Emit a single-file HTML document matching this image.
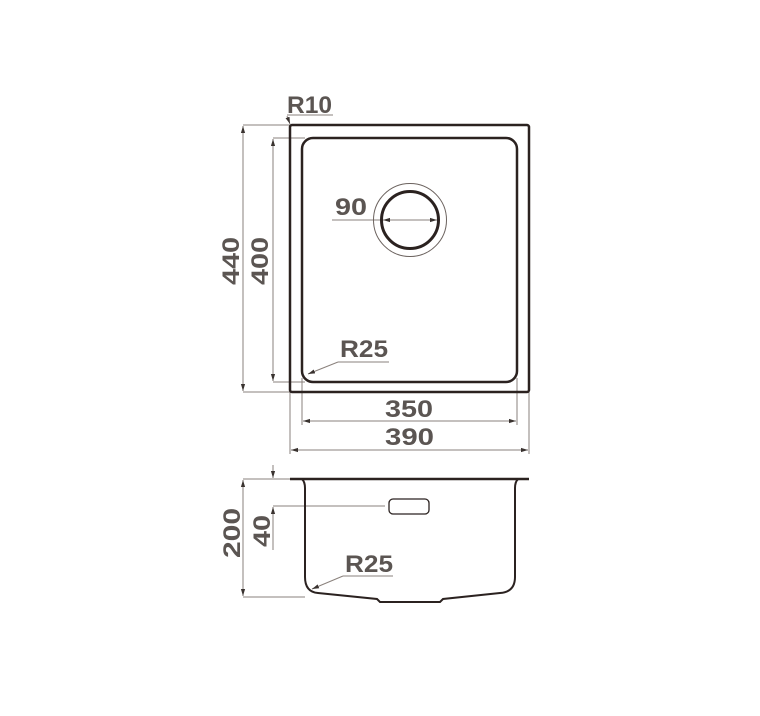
<!DOCTYPE html>
<html><head><meta charset="utf-8"><style>
html,body{margin:0;padding:0;background:#fff;}
svg{display:block;}
text{font-family:"Liberation Sans",sans-serif;font-weight:bold;fill:#5b5552;font-size:24px;}
</style></head><body>
<svg width="760" height="716" viewBox="0 0 760 716" xmlns="http://www.w3.org/2000/svg">
<defs>
<marker id="a" viewBox="0 0 10 10" refX="10" refY="5" markerWidth="7" markerHeight="7" orient="auto-start-reverse"><path d="M0,2 L10,5 L0,8z" fill="#3a3330"/></marker>
</defs>
<g fill="none" stroke="#8a817c" stroke-width="1">
<line x1="243" y1="125" x2="290" y2="125"/>
<line x1="243" y1="392" x2="290" y2="392"/>
<line x1="243" y1="126" x2="243" y2="391" marker-start="url(#a)" marker-end="url(#a)"/>
<line x1="273" y1="138" x2="305" y2="138"/>
<line x1="273" y1="382" x2="305" y2="382"/>
<line x1="273" y1="139" x2="273" y2="381" marker-start="url(#a)" marker-end="url(#a)"/>
<line x1="302" y1="378" x2="302" y2="425"/>
<line x1="517" y1="378" x2="517" y2="425"/>
<line x1="303" y1="421" x2="516" y2="421" marker-start="url(#a)" marker-end="url(#a)"/>
<line x1="290" y1="392" x2="290" y2="454"/>
<line x1="529" y1="392" x2="529" y2="454"/>
<line x1="291" y1="450" x2="528" y2="450" marker-start="url(#a)" marker-end="url(#a)"/>
<line x1="287" y1="115" x2="333" y2="115"/>
<line x1="287" y1="116" x2="290" y2="124" marker-end="url(#a)"/>
<line x1="332" y1="220" x2="382" y2="220"/>
<line x1="383" y1="220" x2="437" y2="220" marker-start="url(#a)" marker-end="url(#a)"/>
<line x1="338" y1="362" x2="389" y2="362"/>
<line x1="338" y1="362" x2="308" y2="374" marker-end="url(#a)"/>
<line x1="243" y1="479" x2="290" y2="479"/>
<line x1="243" y1="597" x2="305" y2="597"/>
<line x1="243" y1="480" x2="243" y2="596" marker-start="url(#a)" marker-end="url(#a)"/>
<line x1="273" y1="465" x2="273" y2="478" marker-end="url(#a)"/>
<line x1="273" y1="507" x2="273" y2="550" marker-start="url(#a)"/>
<line x1="273" y1="506" x2="385" y2="506"/>
<line x1="343" y1="576" x2="393" y2="576"/>
<line x1="343" y1="576" x2="312" y2="589" marker-end="url(#a)"/>
</g>
<g fill="none" stroke="#2b2220">
<rect x="290" y="125" width="239" height="267" rx="2" stroke-width="2.5"/>
<rect x="302" y="138" width="215" height="244" rx="11" stroke-width="2.5"/>
<circle cx="410" cy="220" r="36.5" stroke-width="1" stroke="#6b625e"/>
<circle cx="410" cy="220" r="28.5" stroke-width="3"/>
<line x1="290" y1="479" x2="529" y2="479" stroke-width="2.5"/>
<path d="M302,479 Q305,482 305,488 L305,577 Q305,592 318,593 L377,599 L380,602 L440,602 L443,599 L500,593 Q515,592 515,577 L515,488 Q515,482 518,479" stroke-width="2"/>
<rect x="389" y="499" width="40" height="15" rx="4" stroke-width="1.3"/>
</g>
<text x="287" y="113" textLength="45" lengthAdjust="spacingAndGlyphs">R10</text>
<text x="335" y="215" textLength="32" lengthAdjust="spacingAndGlyphs">90</text>
<text x="340" y="357" textLength="48" lengthAdjust="spacingAndGlyphs">R25</text>
<text x="385" y="417" textLength="48" lengthAdjust="spacingAndGlyphs">350</text>
<text x="385" y="445" textLength="49" lengthAdjust="spacingAndGlyphs">390</text>
<text x="345" y="572" textLength="48" lengthAdjust="spacingAndGlyphs">R25</text>
<text transform="translate(239,285) rotate(-90)" textLength="48" lengthAdjust="spacingAndGlyphs">440</text>
<text transform="translate(268,285) rotate(-90)" textLength="48" lengthAdjust="spacingAndGlyphs">400</text>
<text transform="translate(240,558) rotate(-90)" textLength="50" lengthAdjust="spacingAndGlyphs">200</text>
<text transform="translate(270,547) rotate(-90)" textLength="32" lengthAdjust="spacingAndGlyphs">40</text>
</svg>
</body></html>
